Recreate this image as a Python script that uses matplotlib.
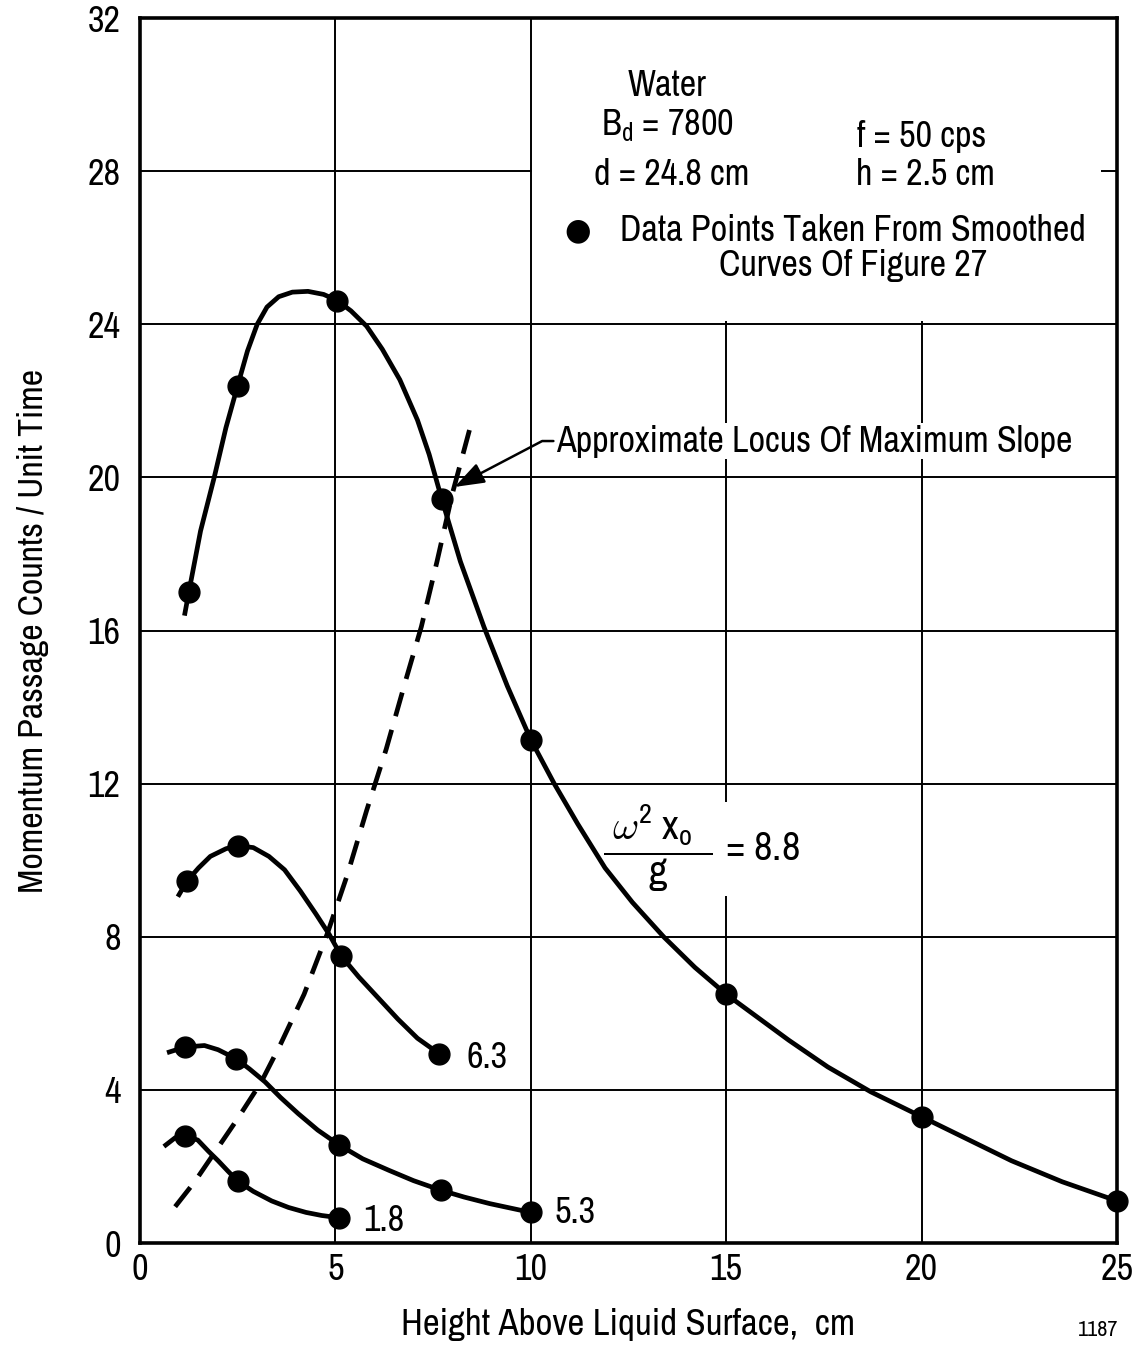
import matplotlib.pyplot as plt
from matplotlib import font_manager
from matplotlib.patches import Rectangle

# the report uses a narrow sans; take one if the machine has it
names = sorted({f.name for f in font_manager.fontManager.ttflist})
narrow = [n for n in names if 'Narrow' in n or 'Condensed' in n]
if narrow:
    base_font = narrow[0]
    k = 1.0
else:
    base_font = 'Liberation Sans'
    k = 0.86
plt.rcParams['font.family'] = [base_font, 'DejaVu Sans']
plt.rcParams['mathtext.fontset'] = 'custom'
plt.rcParams['mathtext.rm'] = base_font
plt.rcParams['mathtext.it'] = base_font

# ---- data ----
# omega^2 x0 / g = 8.8
x88_pts = [1.25, 2.5, 5.05, 7.72, 10.0, 15.0, 20.0, 25.0]
y88_pts = [17.0, 22.4, 24.62, 19.44, 13.15, 6.5, 3.3, 1.1]
x88_line = [1.15, 1.25, 1.55, 1.9, 2.2, 2.5, 2.75, 3.0, 3.25, 3.55, 3.9, 4.3, 4.7, 5.05,
            5.4, 5.8, 6.2, 6.65, 7.1, 7.4, 7.72, 8.2, 8.8, 9.4, 10.0, 10.6, 11.2, 11.9,
            12.6, 13.4, 14.2, 15.0, 15.8, 16.6, 17.6, 18.7, 20.0, 21.2, 22.3, 23.6, 25.0]
y88_line = [16.45, 17.0, 18.6, 20.0, 21.3, 22.4, 23.3, 24.0, 24.45, 24.72, 24.84, 24.86, 24.78, 24.62,
            24.35, 23.95, 23.35, 22.55, 21.5, 20.6, 19.44, 17.8, 16.1, 14.55, 13.15, 12.0, 10.95, 9.8,
            8.9, 8.0, 7.2, 6.5, 5.9, 5.3, 4.6, 3.95, 3.3, 2.7, 2.15, 1.6, 1.1]

# 6.3
x63_pts = [1.2, 2.5, 5.15, 7.65]
y63_pts = [9.45, 10.38, 7.5, 4.95]
x63_line = [1.0, 1.2, 1.5, 1.8, 2.2, 2.5, 2.9, 3.3, 3.7, 4.1, 4.5, 4.85, 5.15, 5.6, 6.1, 6.6, 7.1, 7.65]
y63_line = [9.1, 9.45, 9.8, 10.1, 10.3, 10.38, 10.33, 10.1, 9.75, 9.2, 8.6, 8.05, 7.5, 6.95, 6.4, 5.85, 5.35, 4.95]

# 5.3
x53_pts = [1.15, 2.45, 5.1, 7.7, 10.0]
y53_pts = [5.12, 4.82, 2.56, 1.38, 0.8]
x53_line = [0.75, 1.15, 1.65, 2.0, 2.45, 2.8, 3.2, 3.6, 4.05, 4.55, 5.1, 5.7, 6.37, 7.0, 7.7, 8.3, 8.95, 10.0]
y53_line = [4.99, 5.12, 5.16, 5.05, 4.82, 4.55, 4.21, 3.8, 3.38, 2.95, 2.56, 2.2, 1.9, 1.63, 1.38, 1.2, 1.03, 0.8]

# 1.8
x18_pts = [1.15, 2.5, 5.1]
y18_pts = [2.8, 1.62, 0.66]
x18_line = [0.66, 0.9, 1.15, 1.48, 1.75, 2.0, 2.25, 2.5, 2.9, 3.37, 3.8, 4.25, 4.65, 5.1]
y18_line = [2.56, 2.75, 2.8, 2.69, 2.4, 2.15, 1.88, 1.62, 1.35, 1.1, 0.93, 0.8, 0.72, 0.66]

# approximate locus of maximum slope (dashed)
xloc = [0.9, 1.4, 1.9, 2.5, 3.1, 3.6, 4.2, 4.8, 5.3, 5.8, 6.3, 6.8, 7.2, 7.6, 8.0, 8.5]
yloc = [0.95, 1.6, 2.35, 3.25, 4.2, 5.2, 6.5, 8.1, 9.6, 11.3, 12.9, 14.7, 16.1, 17.8, 19.6, 21.5]

xticks = [0, 5, 10, 15, 20, 25]
yticks = [0, 4, 8, 12, 16, 20, 24, 28, 32]

# ---- plot ----
fig = plt.figure(figsize=(11.37, 13.45), dpi=100)
ax = fig.add_axes([0.1231, 0.0758, 0.8593, 0.9108])

ax.set_xlim(0, 25)
ax.set_ylim(0, 32)
ax.set_xticks(xticks)
ax.set_yticks(yticks)
ax.tick_params(length=0, labelsize=26 * k)
ax.tick_params(axis='x', pad=7)
ax.tick_params(axis='y', pad=14)
ax.set_axisbelow(True)
ax.grid(True, color='black', linewidth=1.4)
for sp in ax.spines.values():
    sp.set_linewidth(2.6)

# white panel for the legend text (covers the grid there)
ax.add_patch(Rectangle((10.04, 24.08), 14.56, 7.92, facecolor='white', edgecolor='none', zorder=1))

lw = 3.4
ms = 15
for xl, yl, xp, yp in [(x88_line, y88_line, x88_pts, y88_pts),
                       (x63_line, y63_line, x63_pts, y63_pts),
                       (x53_line, y53_line, x53_pts, y53_pts),
                       (x18_line, y18_line, x18_pts, y18_pts)]:
    ax.plot(xl, yl, color='black', linewidth=lw, solid_joinstyle='round', zorder=3)
    ax.plot(xp, yp, 'o', color='black', markersize=ms, zorder=4, clip_on=False)

ax.plot(xloc, yloc, color='black', linewidth=lw, linestyle=(0, (5.2, 3.0)), zorder=3)

fs = 26 * k
# curve labels
ax.text(8.35, 4.85, '6.3', fontsize=fs, va='center', ha='left')
ax.text(10.6, 0.8, '5.3', fontsize=fs, va='center', ha='left')
ax.text(5.7, 0.6, '1.8', fontsize=fs, va='center', ha='left')
ax.text(11.85, 10.3, r'$\dfrac{\mathrm{\ \omega^2\ x_o\ \ }}{\mathrm{g}}$ = 8.8', fontsize=fs + 3,
        va='center', ha='left', zorder=2,
        bbox=dict(facecolor='white', edgecolor='none', pad=1))

ax.annotate('Approximate Locus Of Maximum Slope', xy=(8.05, 19.75), xytext=(10.65, 20.95),
            fontsize=fs, va='center', ha='left', zorder=5,
            bbox=dict(facecolor='white', edgecolor='none', pad=1),
            arrowprops=dict(arrowstyle='-|>,head_length=0.7,head_width=0.25', color='black', lw=1.8,
                            connectionstyle='arc,angleA=180,armA=14,angleB=30,armB=0,rad=0',
                            relpos=(0, 0.5), patchA=None, shrinkA=2, shrinkB=0))

# legend block
ax.text(13.5, 30.25, 'Water', fontsize=fs, ha='center', va='center', zorder=5)
ax.text(13.5, 29.2, r'B$_\mathregular{d}$ = 7800', fontsize=fs, ha='center', va='center', zorder=5)
ax.text(13.6, 27.9, 'd = 24.8 cm', fontsize=fs, ha='center', va='center', zorder=5)
ax.text(20.0, 28.9, 'f = 50 cps', fontsize=fs, ha='center', va='center', zorder=5)
ax.text(20.1, 27.9, 'h = 2.5 cm', fontsize=fs, ha='center', va='center', zorder=5)
ax.text(11.2, 26.45, '●', fontsize=22, ha='center', va='center', zorder=5)
ax.text(18.25, 26.0, 'Data Points Taken From Smoothed\nCurves Of Figure 27', fontsize=fs,
        ha='center', va='center', linespacing=1.08, zorder=5)

ax.set_xlabel('Height Above Liquid Surface,  cm', fontsize=26.5 * k, labelpad=16)
ax.set_ylabel('Momentum Passage Counts / Unit Time', fontsize=25.8 * k, labelpad=28)

fig.text(0.966, 0.004, '1187', fontsize=16, fontweight='bold', ha='center', va='bottom')

plt.savefig('out.png', dpi=100)
